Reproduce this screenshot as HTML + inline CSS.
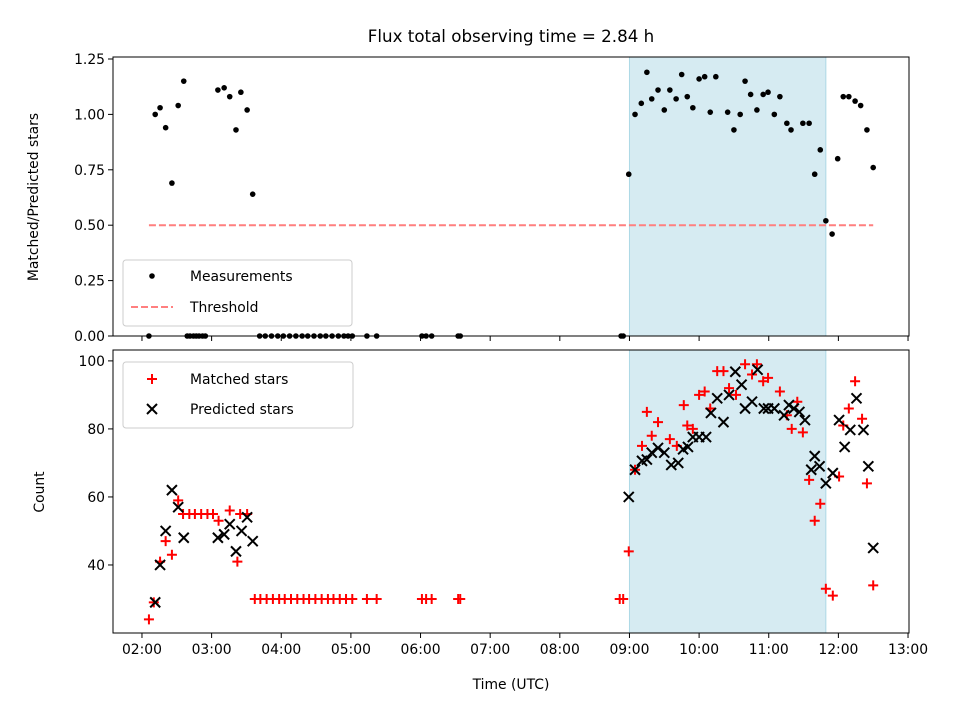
<!DOCTYPE html>
<html><head><meta charset="utf-8"><style>
body{margin:0;background:#fff;}
svg{display:block;font-family:"DejaVu Sans","Liberation Sans",sans-serif;}
</style></head><body>
<svg id="chart" width="960" height="720" xmlns="http://www.w3.org/2000/svg"></svg>
<script>
// ---- data ----
const xTickLabels = ["02:00","03:00","04:00","05:00","06:00","07:00","08:00","09:00","10:00","11:00","12:00","13:00"];
const xTickHours = [2,3,4,5,6,7,8,9,10,11,12,13];
const topTicks = [0,0.25,0.5,0.75,1.0,1.25];
const topTickLabels = ["0.00","0.25","0.50","0.75","1.00","1.25"];
const botTicks = [40,60,80,100];
const shadeStart = 9.0, shadeEnd = 11.82;
const threshold = 0.5, thrStart = 2.1, thrEnd = 12.5;

const measTimes = [2.10,2.19,2.26,2.34,2.43,2.52,2.60,2.65,2.69,2.74,2.78,2.82,2.87,2.91,3.09,3.18,3.26,3.35,3.42,3.51,3.59,
 3.69,3.77,3.86,3.95,4.03,4.12,4.21,4.30,4.38,4.47,4.56,4.64,4.73,4.82,4.90,4.96,5.02,5.23,5.37,6.02,6.08,6.16,6.54,6.57,
 8.88,8.91,8.99,9.08,9.17,9.25,9.32,9.41,9.50,9.58,9.67,9.75,9.83,9.91,10.00,10.08,10.16,10.24,10.41,10.50,10.59,10.66,10.74,10.83,10.92,10.99,11.08,11.16,11.26,11.32,11.49,11.58,11.66,11.74,11.82,11.91,11.99,12.07,12.15,12.24,12.32,12.41,12.50];
const measValues = [0,1.00,1.03,0.94,0.69,1.04,1.15,0,0,0,0,0,0,0,1.11,1.12,1.08,0.93,1.10,1.02,0.64,
 0,0,0,0,0,0,0,0,0,0,0,0,0,0,0,0,0,0,0,0,0,0,0,0,
 0,0,0.73,1.00,1.05,1.19,1.07,1.11,1.02,1.11,1.07,1.18,1.08,1.03,1.16,1.17,1.01,1.17,1.01,0.93,1.00,1.15,1.09,1.02,1.09,1.10,1.00,1.08,0.96,0.93,0.96,0.96,0.73,0.84,0.52,0.46,0.80,1.08,1.08,1.06,1.04,0.93,0.76];

const matchedTimes = [2.10,2.17,2.26,2.34,2.43,2.52,2.59,2.68,2.76,2.85,2.94,3.02,3.10,3.26,3.37,3.41,3.51,
 3.62,3.70,3.79,3.88,3.97,4.05,4.14,4.23,4.32,4.40,4.49,4.58,4.67,4.75,4.84,4.93,5.02,5.23,5.37,6.02,6.08,6.16,6.54,6.57,
 8.86,8.91,8.99,9.08,9.18,9.25,9.32,9.41,9.58,9.68,9.78,9.83,9.91,10.00,10.08,10.16,10.26,10.35,10.43,10.53,10.66,10.76,10.83,10.92,10.99,11.16,11.26,11.33,11.41,11.49,11.58,11.66,11.74,11.82,11.92,12.01,12.07,12.15,12.24,12.34,12.41,12.50];
const matchedValues = [24,29,41,47,43,59,55,55,55,55,55,55,53,56,41,55,55,
 30,30,30,30,30,30,30,30,30,30,30,30,30,30,30,30,30,30,30,30,30,30,30,30,
 30,30,44,68,75,85,78,82,77,75,87,81,80,90,91,86,97,97,92,90,99,96,99,94,95,91,84,80,88,79,65,53,58,33,31,66,81,86,94,83,64,34];

const predTimes = [2.19,2.26,2.34,2.43,2.52,2.60,3.09,3.18,3.26,3.35,3.43,3.51,3.59,
 8.99,9.08,9.18,9.25,9.32,9.41,9.50,9.60,9.70,9.77,9.84,9.91,10.00,10.10,10.17,10.26,10.35,10.43,10.52,10.61,10.66,10.76,10.84,10.93,10.99,11.08,11.22,11.29,11.36,11.44,11.52,11.61,11.66,11.73,11.82,11.92,12.01,12.09,12.17,12.26,12.36,12.43,12.50];
const predValues = [29,40,50,62,57,48,48,49,52,44,50,54,47,
 60,68,70.6,71,73,74.4,73,69.4,70,74,74.7,77.6,77.6,77.6,84.7,89,82,90,96.8,93,86,88,97.4,86,86,86,84,87,86,85,82.6,68,72,69,64,67,82.6,74.7,79.7,89,79.7,69,45];

// ---- axes ----
const NS="http://www.w3.org/2000/svg";
const svg=document.getElementById('chart');
const X0=1.584, X1=13.014, PL=113, PR=909;
const xs=h=>PL+(h-X0)/(X1-X0)*(PR-PL);
const T={top:57,bot:336,min:0,max:1.259};
const B={top:350,bot:633,min:20,max:103.2};
const yT=v=>T.bot-(v-T.min)/(T.max-T.min)*(T.bot-T.top);
const yB=v=>B.bot-(v-B.min)/(B.max-B.min)*(B.bot-B.top);
function el(tag,attrs,parent){const e=document.createElementNS(NS,tag);for(const k in attrs)e.setAttribute(k,attrs[k]);(parent||svg).appendChild(e);return e;}

let t=el('text',{x:511,y:42,'text-anchor':'middle','font-size':16.7,fill:'#000'});
t.textContent='Flux total observing time = 2.84 h';



function panel(A,name){
  const g=el('g',{});
  
  
  const sh=el('rect',{x:xs(shadeStart),y:A.top,width:xs(shadeEnd)-xs(shadeStart),height:A.bot-A.top,fill:'#add8e6','fill-opacity':0.5,stroke:'#add8e6'},g);
  
  
  return g;
}
function frame(A,g){
  el('rect',{x:PL,y:A.top,width:PR-PL,height:A.bot-A.top,fill:'none',stroke:'#000','stroke-width':1},g);
  xTickHours.forEach(h=>{el('line',{x1:xs(h),x2:xs(h),y1:A.bot,y2:A.bot+5,stroke:'#000'},g);});
}

const gT=panel(T,'ratio-panel');
const thr=el('line',{x1:xs(thrStart),x2:xs(thrEnd),y1:yT(threshold),y2:yT(threshold),stroke:'#ff7f7f','stroke-width':2,'stroke-dasharray':'7,3'},gT);


measTimes.forEach((h,i)=>{
  const c=el('circle',{cx:xs(h),cy:yT(measValues[i]),r:2.8,fill:'#000'},gT);
  
  
});
frame(T,gT);
topTicks.forEach((v,i)=>{
  el('line',{x1:PL-5,x2:PL,y1:yT(v),y2:yT(v),stroke:'#000'},gT);
  const tx=el('text',{x:PL-8,y:yT(v)+5,'text-anchor':'end','font-size':13.9},gT);
  tx.textContent=topTickLabels[i];
  
  
});
let yl=el('text',{x:0,y:0,transform:'translate(38,197) rotate(-90)','text-anchor':'middle','font-size':13.9});
yl.textContent='Matched/Predicted stars';



const gB=panel(B,'count-panel');
function plus(x,y,g){const p=el('path',{d:`M${x-5},${y}H${x+5}M${x},${y-5}V${y+5}`,stroke:'#f00','stroke-width':2},g);return p;}
function cross(x,y,g){const p=el('path',{d:`M${x-5},${y-5}L${x+5},${y+5}M${x-5},${y+5}L${x+5},${y-5}`,stroke:'#000','stroke-width':2},g);return p;}
matchedTimes.forEach((h,i)=>{
  const p=plus(xs(h),yB(matchedValues[i]),gB);
  
  
});
predTimes.forEach((h,i)=>{
  const p=cross(xs(h),yB(predValues[i]),gB);
  
  
});
frame(B,gB);
botTicks.forEach(v=>{
  el('line',{x1:PL-5,x2:PL,y1:yB(v),y2:yB(v),stroke:'#000'},gB);
  const tx=el('text',{x:PL-8,y:yB(v)+5,'text-anchor':'end','font-size':13.9},gB);
  tx.textContent=String(v);
  
  
});
xTickHours.forEach((h,i)=>{
  const tx=el('text',{x:xs(h),y:B.bot+21,'text-anchor':'middle','font-size':13.9});
  tx.textContent=xTickLabels[i];
  
  
});
let yl2=el('text',{x:0,y:0,transform:'translate(44,492) rotate(-90)','text-anchor':'middle','font-size':13.9});
yl2.textContent='Count';


let xl=el('text',{x:511,y:689,'text-anchor':'middle','font-size':13.9});
xl.textContent='Time (UTC)';



function legend(x,y,w,h,name){const g=el('g',{});
 el('rect',{x:x,y:y,width:w,height:h,rx:3,fill:'#fff','fill-opacity':0.8,stroke:'#ccc'},g);return g;}
const lg1=legend(123,260,229,66,'ratio-legend');
el('circle',{cx:152,cy:276,r:2.8,fill:'#000'},lg1);
let l1=el('text',{x:190,y:281,'font-size':13.9},lg1);l1.textContent='Measurements';

el('line',{x1:131,x2:173,y1:307,y2:307,stroke:'#ff7f7f','stroke-width':2,'stroke-dasharray':'7,3'},lg1);
let l2=el('text',{x:190,y:312,'font-size':13.9},lg1);l2.textContent='Threshold';


const lg2=legend(123,362,230,66,'count-legend');
plus(152,379,lg2);
let l3=el('text',{x:190,y:384,'font-size':13.9},lg2);l3.textContent='Matched stars';

cross(152,409,lg2);
let l4=el('text',{x:190,y:414,'font-size':13.9},lg2);l4.textContent='Predicted stars';

</script>
</body></html>
